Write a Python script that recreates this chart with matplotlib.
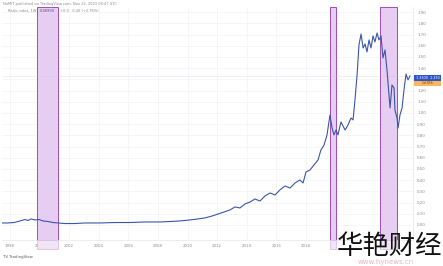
import matplotlib.pyplot as plt
import matplotlib.patches as mpatches

# data (years, values)
years = [1997.46, 1997.86, 1998.27, 1998.68, 1999.01, 1999.22, 1999.42, 1999.69, 1999.96,
         2000.23, 2000.57, 2000.91, 2001.24, 2001.72, 2002.39, 2003.07, 2004.08, 2005.09,
         2006.11, 2007.12, 2008.14, 2008.81, 2009.49, 2010.16, 2010.70, 2011.18, 2011.65,
         2012.05, 2012.46, 2012.86, 2013.20, 2013.54, 2013.88, 2014.22, 2014.55, 2014.89,
         2015.23, 2015.57, 2015.91, 2016.24, 2016.58, 2016.92, 2017.26, 2017.59, 2017.80,
         2018.00, 2018.27, 2018.54, 2018.81, 2019.01, 2019.22, 2019.42, 2019.62, 2019.76,
         2019.89, 2020.03, 2020.16, 2020.36, 2020.50, 2020.64, 2020.84, 2021.04, 2021.18,
         2021.31, 2021.45, 2021.58, 2021.72, 2021.86, 2021.99, 2022.12, 2022.26, 2022.39,
         2022.53, 2022.66, 2022.80, 2022.93, 2023.07, 2023.20, 2023.34, 2023.47, 2023.61,
         2023.68, 2023.81, 2023.95, 2024.01, 2024.15, 2024.22, 2024.35, 2024.49, 2024.62,
         2024.76, 2024.89, 2025.03]
values = [0.018, 0.018, 0.022, 0.036, 0.049, 0.040, 0.054, 0.045, 0.049,
          0.036, 0.031, 0.022, 0.018, 0.013, 0.013, 0.018, 0.018, 0.022,
          0.022, 0.027, 0.027, 0.031, 0.036, 0.045, 0.054, 0.063, 0.080,
          0.098, 0.116, 0.134, 0.161, 0.152, 0.188, 0.205, 0.232, 0.214,
          0.259, 0.286, 0.268, 0.313, 0.348, 0.330, 0.375, 0.402, 0.375,
          0.473, 0.491, 0.536, 0.580, 0.670, 0.714, 0.804, 0.982, 0.866,
          0.804, 0.848, 0.804, 0.920, 0.884, 0.848, 0.893, 0.955, 0.938,
          1.116, 1.339, 1.607, 1.705, 1.580, 1.616, 1.545, 1.652, 1.580,
          1.688, 1.634, 1.714, 1.652, 1.688, 1.491, 1.563, 1.384, 1.161,
          1.045, 1.250, 1.223, 1.027, 0.955, 0.866, 0.982, 1.045, 1.205,
          1.348, 1.295, 1.330]

# highlighted ranges
bands = [(1999.82, 2001.24), (2019.62, 2020.03), (2023.00, 2024.15)]

x_ticks = [1998, 2000, 2002, 2004, 2006, 2008, 2010, 2012, 2014, 2016, 2018]
x_labels = [str(t) for t in x_ticks]
y_ticks = [i / 10 for i in range(20)]
last_price = 1.330

W, H = 443, 266
fig = plt.figure(figsize=(W / 100, H / 100), dpi=100)
ax = fig.add_axes([2 / W, 1 - 240 / H, 411 / W, 233 / H])

ax.set_xlim(1997.46, 2025.23)
ax.set_ylim(-0.134, 1.946)

for a, b in bands:
    ax.axvspan(a, b, facecolor='#e6cdf1', edgecolor='#9c4fb8', linewidth=0.7, zorder=1)

ax.axhline(last_price, color='#c9c9c9', linewidth=0.4, linestyle=(0, (1, 1)), zorder=2)
ax.plot(years, values, color='#3b56a8', linewidth=0.8, zorder=3)

ax.set_xticks(x_ticks)
ax.set_xticklabels(x_labels)
ax.set_yticks(y_ticks)
ax.set_yticklabels(['' if abs(v - 1.3) < 1e-6 else f'{v:.2f}' for v in y_ticks])
ax.yaxis.tick_right()
ax.tick_params(axis='both', length=0, labelsize=2.8, labelcolor='#8a8a8a', pad=3)
ax.grid(True, color='#f2f3f7', linewidth=0.5)
ax.set_axisbelow(True)
for s in ['top', 'left']:
    ax.spines[s].set_visible(False)
ax.spines['right'].set_color('#e6e6e6')
ax.spines['bottom'].set_color('#e6e6e6')
ax.spines['right'].set_linewidth(0.5)
ax.spines['bottom'].set_linewidth(0.5)

# band markers on the time axis
for a, b in bands:
    x0 = ax.transData.transform((a, 0))[0] / (W)
    x1 = ax.transData.transform((b, 0))[0] / (W)
    fig.patches.append(mpatches.Rectangle((x0, 1 - 249 / H), x1 - x0, 9 / H,
                                          transform=fig.transFigure, facecolor='#f1e4f6',
                                          edgecolor='#c9a6d8', linewidth=0.4))

# current price label
fig.patches.append(mpatches.Rectangle((414 / W, 1 - 81 / H), 27 / W, 6 / H,
                                      transform=fig.transFigure, facecolor='#2f55c8',
                                      edgecolor='none'))
fig.patches.append(mpatches.Rectangle((414 / W, 1 - 86 / H), 27 / W, 5 / H,
                                      transform=fig.transFigure, facecolor='#f5a43a',
                                      edgecolor='none', alpha=0.8))
fig.text(427.5 / W, 1 - 78 / H, f'{last_price:.4f}  1.330', fontsize=2.4,
         color='white', ha='center', va='center')
fig.text(427.5 / W, 1 - 83.5 / H, '1d 05h', fontsize=2.2, color='#5a3a00',
         ha='center', va='center')

# header texts
fig.text(3 / W, 1 - 4 / H, 'NoMIT published on TradingView.com, Nov 22, 2023 08:47 UTC',
         fontsize=2.6, color='#8a8a8a', va='center')
fig.text(8 / W, 1 - 11.5 / H, 'Ratio index, 1W', fontsize=2.6, color='#8a8a8a', va='center')
fig.text(40 / W, 1 - 11.5 / H, '0.48990', fontsize=2.6, color='#6a4a80', va='center')
fig.text(60 / W, 1 - 11.5 / H, '+0.0   0.40 (+2.76%)', fontsize=2.6, color='#8a8a8a',
         va='center')

# footer
fig.text(3 / W, 1 - 257 / H, 'TV TradingView', fontsize=2.8, color='#555555', va='center')

# watermark
fig.text(390 / W, 1 - 246 / H, '华艳财经', fontsize=19, color='#111111',
         family=['Noto Sans CJK SC', 'DejaVu Sans'], ha='center', va='center')
fig.text(386 / W, 1 - 262 / H, 'www.hynews.cn', fontsize=5, color='#d07070', alpha=0.5,
         ha='center', va='center')

fig.savefig('out.png', dpi=100)
